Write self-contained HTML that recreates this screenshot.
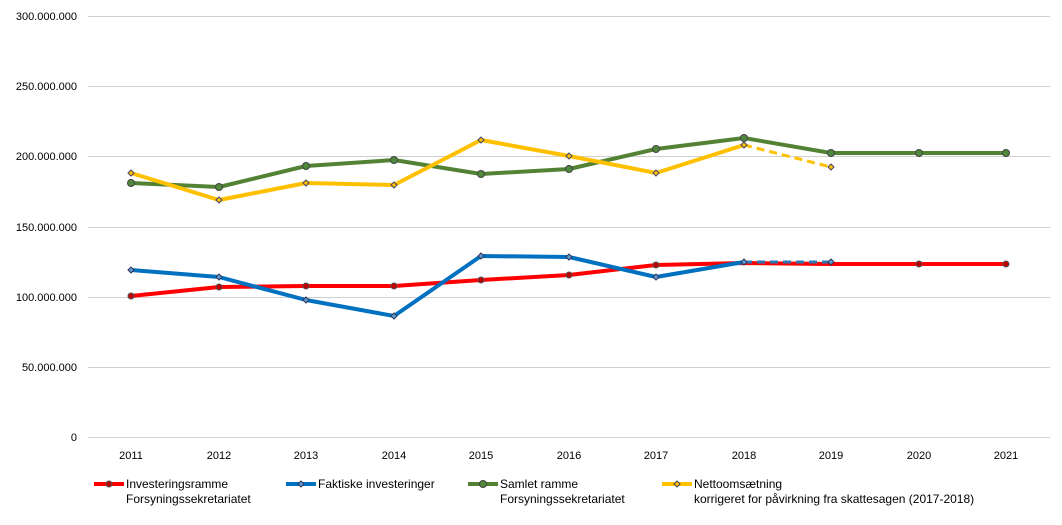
<!DOCTYPE html><html><head><style>body{margin:0;background:#fff}svg text{font-family:"Liberation Sans",sans-serif;font-size:11px;fill:#000}svg text.lg{font-size:12px}</style></head><body>
<svg width="1062" height="520" xmlns="http://www.w3.org/2000/svg">
<g stroke="#d0d0d0" stroke-width="1">
<line x1="88" x2="1050" y1="16.5" y2="16.5"/><line x1="88" x2="1050" y1="86.5" y2="86.5"/><line x1="88" x2="1050" y1="156.5" y2="156.5"/><line x1="88" x2="1050" y1="227.5" y2="227.5"/><line x1="88" x2="1050" y1="297.5" y2="297.5"/><line x1="88" x2="1050" y1="367.5" y2="367.5"/><line x1="88" x2="1050" y1="437.5" y2="437.5"/></g>
<g text-anchor="end"><text x="77" y="20">300.000.000</text><text x="77" y="90">250.000.000</text><text x="77" y="160">200.000.000</text><text x="77" y="231">150.000.000</text><text x="77" y="301">100.000.000</text><text x="77" y="371">50.000.000</text><text x="77" y="441">0</text></g>
<g text-anchor="middle"><text x="131" y="459">2011</text><text x="219" y="459">2012</text><text x="306" y="459">2013</text><text x="394" y="459">2014</text><text x="481" y="459">2015</text><text x="569" y="459">2016</text><text x="656" y="459">2017</text><text x="744" y="459">2018</text><text x="831" y="459">2019</text><text x="919" y="459">2020</text><text x="1006" y="459">2021</text></g>
<g fill="none" stroke-width="4" stroke-linejoin="round">
<polyline stroke="#ff0000" points="131,296 219,287 306,286 394,286 481,280 569,275 656,265 744,263 831,264 919,264 1006,264"/>
<polyline stroke="#0070c0" points="131,270 219,277 306,300 394,316 481,256 569,257 656,277 744,262"/>
<polyline stroke="#2e75b6" stroke-width="3" stroke-dasharray="8,5" points="744,262 831,262"/>
<polyline stroke="#548235" points="131,183 219,187 306,166 394,160 481,174 569,169 656,149 744,138 831,153 919,153 1006,153"/>
<polyline stroke="#ffc000" points="131,173 219,200 306,183 394,185 481,140 569,156 656,173 744,145"/>
<polyline stroke="#ffc000" stroke-width="3" stroke-dasharray="8,5" points="744,145 831,167"/>
</g>
<g fill="#c00000" stroke="#555" stroke-width="1"><circle cx="131" cy="296" r="3"/><circle cx="219" cy="287" r="3"/><circle cx="306" cy="286" r="3"/><circle cx="394" cy="286" r="3"/><circle cx="481" cy="280" r="3"/><circle cx="569" cy="275" r="3"/><circle cx="656" cy="265" r="3"/><circle cx="919" cy="264" r="3"/><circle cx="1006" cy="264" r="3"/></g>
<g fill="#4f8a3c" stroke="#444" stroke-width="1"><circle cx="131" cy="183" r="3.5"/><circle cx="219" cy="187" r="3.5"/><circle cx="306" cy="166" r="3.5"/><circle cx="394" cy="160" r="3.5"/><circle cx="481" cy="174" r="3.5"/><circle cx="569" cy="169" r="3.5"/><circle cx="656" cy="149" r="3.5"/><circle cx="744" cy="138" r="3.5"/><circle cx="831" cy="153" r="3.5"/><circle cx="919" cy="153" r="3.5"/><circle cx="1006" cy="153" r="3.5"/></g>
<g fill="#5b9bd5" stroke="#335" stroke-width="1"><path d="M131 267l3 3-3 3-3-3z"/><path d="M219 274l3 3-3 3-3-3z"/><path d="M306 297l3 3-3 3-3-3z"/><path d="M394 313l3 3-3 3-3-3z"/><path d="M481 253l3 3-3 3-3-3z"/><path d="M569 254l3 3-3 3-3-3z"/><path d="M656 274l3 3-3 3-3-3z"/><path d="M744 259l3 3-3 3-3-3z"/><path d="M831 259l3 3-3 3-3-3z"/></g>
<g fill="#ffc000" stroke="#446" stroke-width="1"><path d="M131 170l3 3-3 3-3-3z"/><path d="M219 197l3 3-3 3-3-3z"/><path d="M306 180l3 3-3 3-3-3z"/><path d="M394 182l3 3-3 3-3-3z"/><path d="M481 137l3 3-3 3-3-3z"/><path d="M569 153l3 3-3 3-3-3z"/><path d="M656 170l3 3-3 3-3-3z"/><path d="M744 142l3 3-3 3-3-3z"/><path d="M831 164l3 3-3 3-3-3z"/></g>
<g stroke-width="4"><line x1="94" x2="124" y1="484" y2="484" stroke="#ff0000"/><line x1="286" x2="316" y1="484" y2="484" stroke="#0070c0"/><line x1="468" x2="498" y1="484" y2="484" stroke="#548235"/><line x1="662" x2="692" y1="484" y2="484" stroke="#ffc000"/></g>
<circle cx="109" cy="484" r="3" fill="#c00000" stroke="#555"/><path d="M301 481l3 3-3 3-3-3z" fill="#5b9bd5" stroke="#335"/><circle cx="483" cy="484" r="3.5" fill="#4f8a3c" stroke="#444"/><path d="M677 481l3 3-3 3-3-3z" fill="#ffc000" stroke="#446"/>
<text class="lg" x="126" y="488">Investeringsramme</text><text class="lg" x="126" y="503">Forsyningssekretariatet</text>
<text class="lg" x="318" y="488">Faktiske investeringer</text>
<text class="lg" x="500" y="488">Samlet ramme</text><text class="lg" x="500" y="503">Forsyningssekretariatet</text>
<text class="lg" x="694" y="488">Nettoomsætning</text><text class="lg" x="694" y="503">korrigeret for påvirkning fra skattesagen (2017-2018)</text>
</svg></body></html>
